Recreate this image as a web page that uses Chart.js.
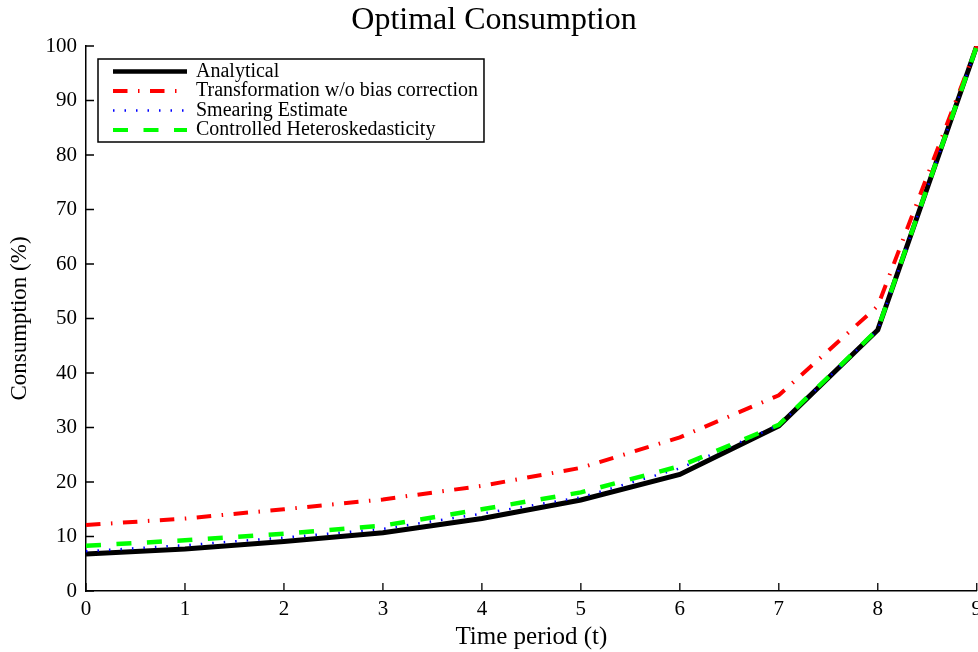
<!DOCTYPE html>
<html>
<head>
<meta charset="utf-8">
<title>Optimal Consumption</title>
<script src="https://cdn.jsdelivr.net/npm/chart.js@4"></script>
<style>
  html, body { margin: 0; padding: 0; background: #fff; overflow: hidden; }
  #wrap { width: 978px; height: 652px; overflow: hidden; }
  canvas { display: block; }
</style>
</head>
<body>
<div id="wrap"><canvas id="chart" width="988" height="652"></canvas></div>
<script>
"use strict";

// ── data ──
const periods      = ["0", "1", "2", "3", "4", "5", "6", "7", "8", "9"];
const analytical   = [6.8, 7.7, 9.1, 10.7, 13.3, 16.7, 21.4, 30.3, 47.9, 100];
const transformed  = [12.1, 13.3, 15.0, 16.8, 19.3, 22.6, 28.2, 35.9, 52.3, 100];
const smearing     = [7.3, 8.4, 9.8, 11.4, 14.2, 17.2, 22.5, 30.4, 47.9, 100];
const controlled   = [8.3, 9.3, 10.5, 12.0, 15.0, 18.1, 22.9, 30.5, 48.0, 100];

const SERIF = "'Liberation Serif', 'Times New Roman', serif";

// legend drawn inside the axes, top-left (matlab style)
const legendBox = {
  id: "legendBox",
  afterDraw(chart) {
    const { ctx, chartArea } = chart;
    const x0 = chartArea.left + 12, y0 = chartArea.top + 13;
    ctx.save();
    ctx.font = "20px " + SERIF;
    const widths = chart.data.datasets.map(d => ctx.measureText(d.label).width);
    const w = 98 + Math.max(...widths) + 6, h = 83;
    ctx.fillStyle = "#fff";
    ctx.fillRect(x0, y0, w, h);
    ctx.lineWidth = 1.5;
    ctx.strokeStyle = "#000";
    ctx.strokeRect(x0, y0, w, h);
    chart.data.datasets.forEach((d, i) => {
      const y = y0 + 12.5 + i * 19.5;
      ctx.beginPath();
      ctx.setLineDash(d.borderDash || []);
      ctx.lineWidth = d.legendWidth;
      ctx.strokeStyle = d.borderColor;
      ctx.moveTo(x0 + 15, y);
      ctx.lineTo(x0 + 89, y);
      ctx.stroke();
      ctx.setLineDash([]);
      ctx.fillStyle = "#000";
      ctx.textBaseline = "middle";
      ctx.textAlign = "left";
      ctx.fillText(d.label, x0 + 98, y);
    });
    ctx.restore();
  }
};

// tick marks pointing into the plot
const innerTicks = {
  id: "innerTicks",
  beforeDatasetsDraw(chart) {
    const { ctx, chartArea, scales: { x, y } } = chart;
    ctx.save();
    ctx.strokeStyle = "#000";
    ctx.lineWidth = 1.3;
    ctx.beginPath();
    x.ticks.forEach((t, i) => {
      const px = x.getPixelForTick(i);
      ctx.moveTo(px, chartArea.bottom);
      ctx.lineTo(px, chartArea.bottom - 8);
    });
    y.ticks.forEach((t, i) => {
      const py = y.getPixelForTick(i);
      ctx.moveTo(chartArea.left, py);
      ctx.lineTo(chartArea.left + 8, py);
    });
    ctx.stroke();
    ctx.restore();
  }
};

new Chart(document.getElementById("chart"), {
  type: "line",
  data: {
    labels: periods,
    datasets: [
      { label: "Analytical", data: analytical, borderColor: "#000000",
        borderWidth: 5, legendWidth: 4.5, order: 4 },
      { label: "Transformation w/o bias correction", data: transformed, borderColor: "#ff0000",
        borderWidth: 4, legendWidth: 4, borderDash: [14.5, 10.5, 1.5, 10.5], order: 3 },
      { label: "Smearing Estimate", data: smearing, borderColor: "#0000ff",
        borderWidth: 2.5, legendWidth: 2.5, borderDash: [1.5, 10], order: 2 },
      { label: "Controlled Heteroskedasticity", data: controlled, borderColor: "#00ff00",
        borderWidth: 4.5, legendWidth: 4, borderDash: [15, 15.5], order: 1 }
    ]
  },
  options: {
    responsive: false,
    animation: false,
    elements: { point: { radius: 0, hoverRadius: 0 }, line: { tension: 0, fill: false } },
    layout: { padding: 0 },
    plugins: {
      legend: { display: false },
      tooltip: { enabled: false },
      title: {
        display: true,
        text: "Optimal Consumption",
        color: "#000",
        font: { family: SERIF, size: 32, weight: "normal", lineHeight: 1 },
        padding: { top: 5, bottom: 9 }
      }
    },
    scales: {
      x: {
        afterFit(s) { s.height = 61; },
        grid: { drawOnChartArea: false, drawTicks: false },
        border: { display: true, color: "#000", width: 1.5 },
        ticks: { color: "#000", padding: 6, maxRotation: 0, font: { family: SERIF, size: 21 } },
        title: {
          display: true, text: "Time period (t)", color: "#000",
          font: { family: SERIF, size: 25 }, padding: { top: 0, bottom: 0 }
        }
      },
      y: {
        min: 0, max: 100,
        afterFit(s) { s.width = 86; },
        grid: { drawOnChartArea: false, drawTicks: false },
        border: { display: true, color: "#000", width: 1.5 },
        ticks: { stepSize: 10, color: "#000", padding: 9, font: { family: SERIF, size: 21 } },
        title: {
          display: true, text: "Consumption (%)", color: "#000",
          font: { family: SERIF, size: 23 }, padding: { top: 6, bottom: 0 }
        }
      }
    }
  },
  plugins: [innerTicks, legendBox]
});
</script>
</body>
</html>
